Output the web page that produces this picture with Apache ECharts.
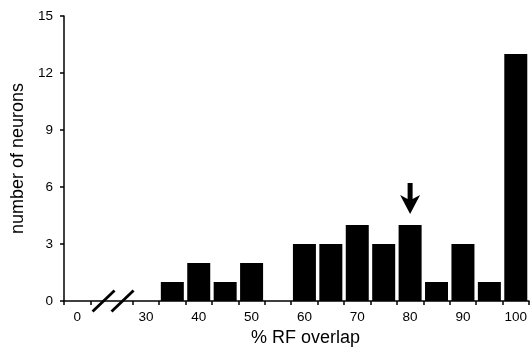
<!DOCTYPE html>
<html>
<head>
<meta charset="utf-8">
<script src="https://cdn.jsdelivr.net/npm/echarts@6/dist/echarts.min.js"></script>
<style>html,body{margin:0;padding:0;background:#fff;}#c{width:532px;height:350px;}</style>
</head>
<body>
<div id="c"></div>
<script>
// Bin centres (% RF overlap) and counts
var bins   = [0, 30, 35, 40, 45, 50, 55, 60, 65, 70, 75, 80, 85, 90, 95, 100];
var counts = [0, 0, 1, 2, 1, 2, 0, 3, 3, 4, 3, 4, 1, 3, 1, 13];
var xTickLabels = ['0', '30', '40', '50', '60', '70', '80', '90', '100'];
var yTicks = [0, 3, 6, 9, 12, 15];
var arrowBin = 80;

// broken axis: the "0" bin is drawn at position 17 on the axis scale
var ZERO_POS = 17;
var BREAK_POS = 23.5;
function pos(v) { return v === 0 ? ZERO_POS : v; }

var barData = bins.map(function (b, i) { return [pos(b), counts[i]]; });
var labelPos = xTickLabels.map(function (t) { return pos(Number(t)); });
var tickPos = [14.5, 19.5];
for (var v = 30; v <= 100; v += 5) tickPos.push(v - 2.5);
tickPos.push(102.5);

var arrowIdx = bins.indexOf(arrowBin);

var chart = echarts.init(document.getElementById('c'), null, {renderer: 'canvas'});
var font = 'Liberation Sans, Arial, Helvetica, sans-serif';
chart.setOption({
  animation: false,
  backgroundColor: '#fff',
  grid: {left: 64, right: 3, top: 16, bottom: 49, containLabel: false, outerBoundsMode: 'none'},
  xAxis: {
    type: 'value', min: 14.5, max: 102.5,
    splitLine: {show: false},
    axisLine: {show: true, lineStyle: {color: '#000', width: 1.5}},
    axisTick: {show: true, customValues: tickPos, length: 4, lineStyle: {color: '#000', width: 1.5}},
    axisLabel: {
      customValues: labelPos, margin: 9, color: '#000', fontSize: 13.5, fontFamily: font,
      formatter: function (val) { return Math.abs(val - ZERO_POS) < 0.01 ? '0' : String(Math.round(val)); }
    },
    name: '% RF overlap', nameLocation: 'middle', nameGap: 16,
    nameTextStyle: {color: '#000', fontSize: 18, fontFamily: font, padding: [0, 0, 0, 18], verticalAlign: 'top'}
  },
  yAxis: {
    type: 'value', min: yTicks[0], max: yTicks[yTicks.length - 1], interval: 3,
    splitLine: {show: false},
    axisLine: {show: true, lineStyle: {color: '#000', width: 1.5}},
    axisTick: {show: true, length: 4, lineStyle: {color: '#000', width: 1.5}},
    axisLabel: {margin: 11, color: '#000', fontSize: 13.5, fontFamily: font},
    name: 'number of neurons', nameLocation: 'middle', nameGap: 31,
    nameTextStyle: {color: '#000', fontSize: 18, fontFamily: font}
  },
  series: [
    {
      type: 'bar', data: barData, barWidth: 23,
      itemStyle: {color: '#000'}, silent: true
    },
    {
      type: 'scatter', data: [barData[arrowIdx]],
      symbol: 'path://M7.5,0 L12.5,0 L12.5,16 L20,12 L10,31 L0,12 L7.5,16 Z',
      symbolSize: [20, 31], symbolOffset: [0, -26.5],
      itemStyle: {color: '#000', opacity: 1}, silent: true, z: 5
    },
    {
      type: 'custom', data: [[BREAK_POS, 0]], clip: false, silent: true, z: 6,
      renderItem: function (params, api) {
        var p = api.coord([api.value(0), api.value(1)]);
        var cx = p[0], cy = p[1];
        var s = {stroke: '#000', lineWidth: 2.8};
        return {
          type: 'group',
          children: [
            {type: 'line', shape: {x1: cx - 19, y1: cy + 10.5, x2: cx + 3, y2: cy - 10.5}, style: s},
            {type: 'line', shape: {x1: cx, y1: cy + 10.5, x2: cx + 22, y2: cy - 10.5}, style: s}
          ]
        };
      }
    }
  ]
});
</script>
</body>
</html>
